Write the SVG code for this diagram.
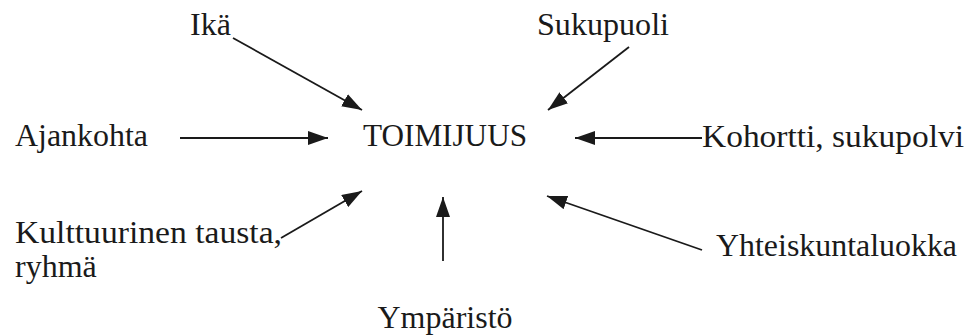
<svg xmlns="http://www.w3.org/2000/svg" width="968" height="336" viewBox="0 0 968 336">
<style>
text{font-family:"Liberation Serif","Times New Roman",serif;font-size:32px;fill:#1a1a1a}
.c line{stroke:#1a1a1a;stroke-width:1.8;marker-end:url(#ah)}
</style>
<defs>
<marker id="ah" markerUnits="userSpaceOnUse" markerWidth="20" markerHeight="14" refX="20" refY="7" orient="auto" viewBox="0 0 20 14">
<path d="M0,0 L20,7 L0,14 Z" fill="#1a1a1a"/>
</marker>
</defs>
<rect width="968" height="336" fill="#fff"/>
<g id="toimijuus"><text x="363" y="146" textLength="164" lengthAdjust="spacingAndGlyphs">TOIMIJUUS</text></g>
<g id="ika"><text x="190" y="35">Ikä</text></g>
<g id="sukupuoli"><text x="537" y="35" textLength="132" lengthAdjust="spacingAndGlyphs">Sukupuoli</text></g>
<g id="ajankohta"><text x="15" y="146" textLength="133" lengthAdjust="spacingAndGlyphs">Ajankohta</text></g>
<g id="kohortti"><text x="702" y="147" textLength="262" lengthAdjust="spacingAndGlyphs">Kohortti, sukupolvi</text></g>
<g id="kulttuurinen"><text x="15" y="243" textLength="267" lengthAdjust="spacingAndGlyphs">Kulttuurinen tausta,</text><text x="15" y="277">ryhmä</text></g>
<g id="ymparisto"><text x="445" y="328" text-anchor="middle">Ympäristö</text></g>
<g id="yhteiskuntaluokka"><text x="716" y="256" textLength="241" lengthAdjust="spacingAndGlyphs">Yhteiskuntaluokka</text></g>
<g id="connectors" class="c">
<line x1="233" y1="38" x2="362" y2="110"/>
<line x1="629" y1="47" x2="548" y2="110"/>
<line x1="180" y1="138" x2="328" y2="138"/>
<line x1="702" y1="138" x2="575" y2="138"/>
<line x1="281" y1="238" x2="362" y2="191"/>
<line x1="443" y1="261" x2="443" y2="197"/>
<line x1="702" y1="250" x2="547" y2="196"/>
</g>
</svg>
